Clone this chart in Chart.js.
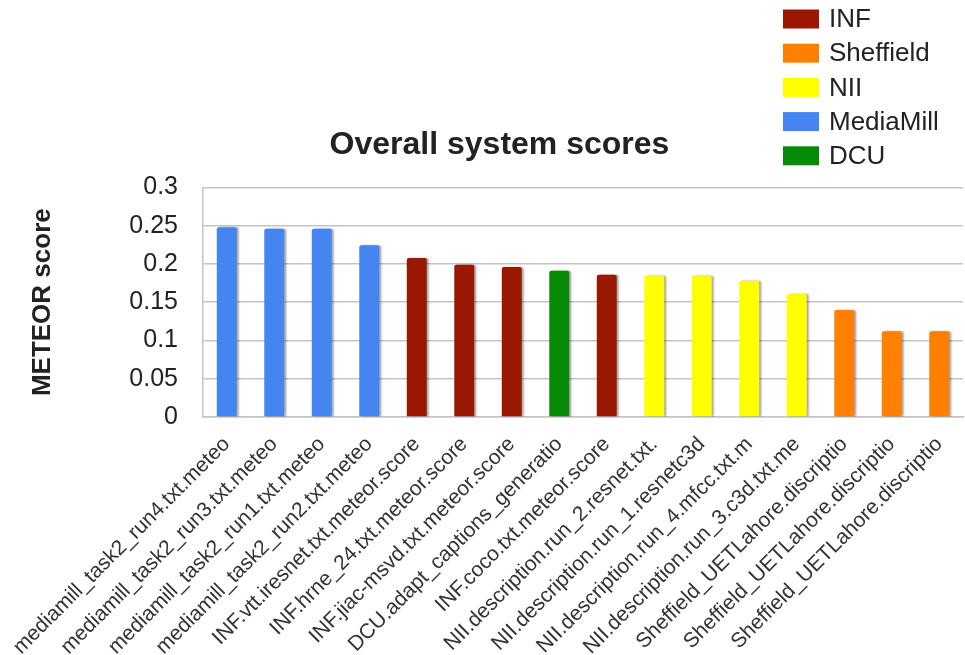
<!DOCTYPE html>
<html>
<head>
<meta charset="utf-8">
<script src="https://cdn.jsdelivr.net/npm/chart.js@4/dist/chart.umd.min.js"></script>
<style>
  html, body { margin: 0; padding: 0; background: #ffffff; }
  #wrap { width: 965px; height: 655px; position: relative; }
</style>
</head>
<body>
<div id="wrap"><canvas id="c"></canvas></div>
<script>
const categories = [
  "mediamill_task2_run4.txt.meteo",
  "mediamill_task2_run3.txt.meteo",
  "mediamill_task2_run1.txt.meteo",
  "mediamill_task2_run2.txt.meteo",
  "INF.vtt.iresnet.txt.meteor.score",
  "INF.hrne_24.txt.meteor.score",
  "INF.jiac-msvd.txt.meteor.score",
  "DCU.adapt_captions_generatio",
  "INF.coco.txt.meteor.score",
  "NII.description.run_2.resnet.txt.",
  "NII.description.run_1.resnetc3d",
  "NII.description.run_4.mfcc.txt.m",
  "NII.description.run_3.c3d.txt.me",
  "Sheffield_UETLahore.discriptio",
  "Sheffield_UETLahore.discriptio",
  "Sheffield_UETLahore.discriptio"
];
const meteorScores = [0.248, 0.246, 0.246, 0.2245, 0.2076, 0.199, 0.196, 0.191, 0.186, 0.1846, 0.1846, 0.178, 0.1606, 0.1397, 0.112, 0.112];
const barTeams = ["MediaMill","MediaMill","MediaMill","MediaMill","INF","INF","INF","DCU","INF","NII","NII","NII","NII","Sheffield","Sheffield","Sheffield"];
const legendTeams = ["INF", "Sheffield", "NII", "MediaMill", "DCU"];
const teamColors = ["#9b1800", "#ff7f00", "#ffff00", "#4585f2", "#078a07"];
const yTickValues = [0, 0.05, 0.1, 0.15, 0.2, 0.25, 0.3];
const yTickLabels = ["0", "0.05", "0.1", "0.15", "0.2", "0.25", "0.3"];
const chartTitle = "Overall system scores";
const yAxisTitle = "METEOR score";

const colorOf = t => teamColors[legendTeams.indexOf(t)];
const FONT = "'Liberation Sans', Arial, Helvetica, sans-serif";

const shadowPlugin = {
  id: 'barShadow',
  beforeDatasetsDraw(chart) {
    const ctx = chart.ctx;
    ctx.save();
    ctx.shadowColor = 'rgba(0,0,0,0.35)';
    ctx.shadowBlur = 2;
    ctx.shadowOffsetX = 2;
    ctx.shadowOffsetY = 0;
  },
  afterDatasetsDraw(chart) {
    chart.ctx.restore();
  }
};

const legendPlugin = {
  id: 'teamLegend',
  afterDraw(chart) {
    const ctx = chart.ctx;
    ctx.save();
    ctx.font = "26px " + FONT;
    ctx.textBaseline = 'middle';
    ctx.textAlign = 'left';
    legendTeams.forEach((t, i) => {
      const cy = 19 + i * 34.2;
      ctx.fillStyle = teamColors[i];
      ctx.fillRect(783, cy - 9.5, 36, 19);
      ctx.fillStyle = '#222222';
      ctx.fillText(t, 829, cy + 1);
    });
    ctx.restore();
  }
};

new Chart(document.getElementById('c'), {
  type: 'bar',
  data: {
    labels: categories,
    datasets: [{
      label: 'METEOR',
      data: meteorScores,
      backgroundColor: barTeams.map(colorOf),
      borderWidth: 0,
      borderRadius: { topLeft: 2, topRight: 2 },
      categoryPercentage: 1.0,
      barPercentage: 0.42
    }]
  },
  plugins: [shadowPlugin, legendPlugin],
  options: {
    responsive: true,
    maintainAspectRatio: false,
    animation: false,
    devicePixelRatio: 1,
    layout: { padding: { left: 36, right: 2, top: 0, bottom: 0 } },
    plugins: {
      legend: { display: false },
      tooltip: { enabled: false },
      title: {
        display: true,
        text: chartTitle,
        color: '#222222',
        font: { family: FONT, size: 32, weight: 'bold' },
        padding: { top: 126, bottom: 23 }
      }
    },
    scales: {
      x: {
        grid: { display: false, drawTicks: false },
        border: { display: true, color: '#c4c4c4', width: 1.5 },
        ticks: {
          autoSkip: false,
          minRotation: 45,
          maxRotation: 45,
          padding: 15,
          color: '#333333',
          font: { family: FONT, size: 21 }
        },
        afterFit(scale) {
          scale.height = 238;
          scale.paddingLeft = 0;
          scale.paddingRight = 0;
        }
      },
      y: {
        min: 0,
        max: 0.3,
        afterBuildTicks(scale) {
          scale.ticks = yTickValues.map(v => ({ value: v }));
        },
        grid: { color: '#c4c4c4', lineWidth: 1.5, drawTicks: false },
        border: { display: true, color: '#c4c4c4', width: 1.5 },
        ticks: {
          padding: 25,
          color: '#222222',
          font: { family: FONT, size: 25 },
          callback(value) {
            const i = yTickValues.findIndex(v => Math.abs(v - value) < 1e-9);
            return i >= 0 ? yTickLabels[i] : '';
          }
        },
        title: {
          display: true,
          text: yAxisTitle,
          color: '#222222',
          font: { family: FONT, size: 26, weight: 'bold' },
          padding: { top: -9, bottom: 0 }
        },
        afterFit(scale) {
          scale.width = 167;
        }
      }
    }
  }
});
</script>
</body>
</html>
